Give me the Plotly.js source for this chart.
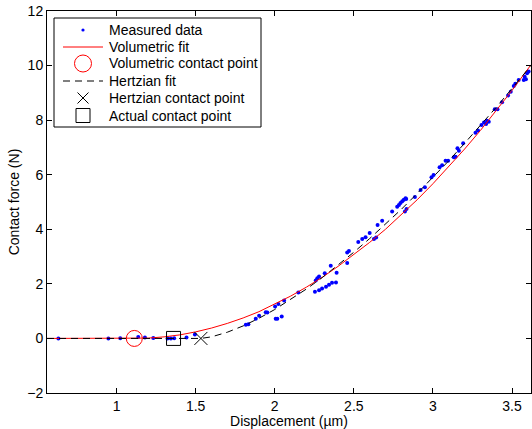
<!DOCTYPE html>
<html>
<head>
<meta charset="utf-8">
<script src="https://cdn.plot.ly/plotly-3.0.1.min.js"></script>
<style>html,body{margin:0;padding:0;background:#fff;}#chart{width:532px;height:429px;}</style>
</head>
<body>
<div id="chart"></div>
<script>
// Measured data (displacement in µm, force in N)
const measuredX = [0.632, 0.948, 1.023, 1.137, 1.179, 1.232, 1.322, 1.343, 1.364, 1.442, 1.495,
  1.817, 1.833, 1.880, 1.901, 1.943, 1.953, 2.006, 2.016, 2.044, 2.002, 2.023, 2.059, 2.149,
  2.254, 2.280, 2.299, 2.324, 2.343, 2.362, 2.387, 2.259, 2.269, 2.280, 2.316, 2.354, 2.391,
  2.458, 2.458, 2.469, 2.528, 2.553, 2.574, 2.600, 2.627, 2.641, 2.650, 2.679, 2.742,
  2.774, 2.785, 2.795, 2.806, 2.816, 2.831, 2.823, 2.833, 2.827,
  2.886, 2.922, 2.949, 2.991, 3.004, 3.042, 3.058, 3.080, 3.096, 3.132, 3.143, 3.155, 3.164, 3.191,
  3.269, 3.285, 3.307, 3.323, 3.342, 3.353, 3.336, 3.391, 3.408, 3.437, 3.475, 3.492, 3.511, 3.521,
  3.542, 3.574, 3.580, 3.588, 3.595, 3.605];
const measuredY = [0.00, 0.00, 0.01, 0.05, 0.03, 0.02, 0.00, 0.00, 0.01, 0.03, 0.14,
  0.50, 0.52, 0.72, 0.83, 0.96, 0.95, 0.72, 0.72, 0.80, 1.17, 1.26, 1.39, 1.68,
  1.71, 1.77, 1.83, 1.89, 1.97, 2.04, 2.05, 2.12, 2.21, 2.27, 2.39, 2.66, 2.41,
  2.76, 3.15, 3.20, 3.53, 3.64, 3.71, 3.86, 3.64, 3.70, 4.16, 4.31, 4.65,
  4.83, 4.89, 4.96, 5.03, 5.08, 5.11, 4.65, 4.74, 5.14,
  5.18, 5.44, 5.54, 5.91, 5.99, 6.27, 6.35, 6.51, 6.51, 6.64, 6.66, 6.97, 6.88, 7.15,
  7.54, 7.62, 7.82, 7.91, 7.98, 7.94, 7.86, 8.40, 8.40, 8.66, 8.90, 9.04, 9.25, 9.33,
  9.47, 9.47, 9.59, 9.50, 9.72, 9.78];

// Volumetric fit
const volX = [0.56, 1.112, 1.2, 1.3, 1.4, 1.5, 1.6, 1.7, 1.8, 1.9, 2.0, 2.1, 2.2, 2.3, 2.4, 2.5,
  2.6, 2.7, 2.8, 2.9, 3.0, 3.1, 3.2, 3.3, 3.4, 3.5, 3.62];
const volY = [0, 0, 0.012, 0.057, 0.13, 0.24, 0.38, 0.55, 0.75, 0.98, 1.25, 1.55, 1.88, 2.24, 2.64, 3.07,
  3.52, 4.0, 4.53, 5.08, 5.67, 6.29, 6.94, 7.62, 8.34, 9.09, 10.03];

// Hertzian fit
const hertzX = [0.56, 1.533, 1.6, 1.7, 1.8, 1.9, 2.0, 2.1, 2.2, 2.3, 2.4, 2.5, 2.6, 2.7, 2.8, 2.9,
  3.0, 3.1, 3.2, 3.3, 3.4, 3.5, 3.62];
const hertzY = [0, 0, 0.058, 0.227, 0.458, 0.738, 1.06, 1.42, 1.81, 2.23, 2.68, 3.16, 3.66, 4.19, 4.73, 5.31,
  5.90, 6.51, 7.15, 7.80, 8.47, 9.16, 10.0];

// Contact points
const volContactX = [1.112], volContactY = [0];
const hertzContactX = [1.533], hertzContactY = [0];
const actualContactX = [1.36], actualContactY = [0];

const xTicks = [1, 1.5, 2, 2.5, 3, 3.5];
const xTickText = ['1', '1.5', '2', '2.5', '3', '3.5'];

const legendLabels = ['Measured data', 'Volumetric fit', 'Volumetric contact point',
  'Hertzian fit', 'Hertzian contact point', 'Actual contact point'];

const FONT = 'Liberation Sans, Arial, Helvetica, sans-serif';
const FS = 14;
const HERTZ_DASH = '7px,5px';

// plot area in pixels
const M = {l: 47, r: 1, t: 11, b: 36};
const W = 532, H = 429;
const PW = W - M.l - M.r, PH = H - M.t - M.b;
const px = p => (p - M.l) / PW;
const py = p => (H - M.b - p) / PH;

const traces = [
  {x: measuredX, y: measuredY, mode: 'markers', name: legendLabels[0],
   marker: {color: '#0000ff', size: 4, symbol: 'circle'}},
  {x: volX, y: volY, mode: 'lines', name: legendLabels[1], line: {color: '#ff0000', width: 1}},
  {x: volContactX, y: volContactY, mode: 'markers', name: legendLabels[2],
   marker: {color: '#ff0000', size: 16, symbol: 'circle-open', line: {width: 1}}},
  {x: hertzX, y: hertzY, mode: 'lines', name: legendLabels[3],
   line: {color: '#000000', width: 1, dash: HERTZ_DASH}},
  {x: hertzContactX, y: hertzContactY, mode: 'markers', name: legendLabels[4],
   marker: {color: '#000000', size: 13, symbol: 'x-thin-open', line: {width: 1, color: '#000000'}}},
  {x: actualContactX, y: actualContactY, mode: 'markers', name: legendLabels[5],
   marker: {color: '#000000', size: 14, symbol: 'square-open', line: {width: 1, color: '#000000'}}}
];

// custom legend (MATLAB style)
const LG = {x0: 54, x1: 261, y0: 18, y1: 127, symX: 83, lineX0: 63, lineX1: 103, textX: 108,
  rows: [30, 47, 63.5, 81, 98, 115.5]};
const shapes = [
  {type: 'rect', xref: 'paper', yref: 'paper', x0: px(LG.x0), x1: px(LG.x1), y0: py(LG.y1), y1: py(LG.y0),
   line: {color: '#000', width: 1}, fillcolor: '#fff', layer: 'above'},
  // measured data dot
  {type: 'circle', xref: 'paper', yref: 'paper', x0: px(LG.symX - 1.6), x1: px(LG.symX + 1.6),
   y0: py(LG.rows[0] + 1.6), y1: py(LG.rows[0] - 1.6), fillcolor: '#0000ff', line: {width: 0}, layer: 'above'},
  // volumetric fit line
  {type: 'line', xref: 'paper', yref: 'paper', x0: px(LG.lineX0), x1: px(LG.lineX1),
   y0: py(LG.rows[1]), y1: py(LG.rows[1]), line: {color: '#ff0000', width: 1}, layer: 'above'},
  // volumetric contact circle
  {type: 'circle', xref: 'paper', yref: 'paper', x0: px(LG.symX - 8.5), x1: px(LG.symX + 8.5),
   y0: py(LG.rows[2] + 8.5), y1: py(LG.rows[2] - 8.5), line: {color: '#ff0000', width: 1}, layer: 'above'},
  // hertzian fit dashed
  {type: 'line', xref: 'paper', yref: 'paper', x0: px(LG.lineX0), x1: px(LG.lineX1),
   y0: py(LG.rows[3]), y1: py(LG.rows[3]), line: {color: '#000', width: 1, dash: HERTZ_DASH}, layer: 'above'},
  // hertzian contact X
  {type: 'line', xref: 'paper', yref: 'paper', x0: px(LG.symX - 5.5), x1: px(LG.symX + 5.5),
   y0: py(LG.rows[4] - 5.5), y1: py(LG.rows[4] + 5.5), line: {color: '#000', width: 1}, layer: 'above'},
  {type: 'line', xref: 'paper', yref: 'paper', x0: px(LG.symX - 5.5), x1: px(LG.symX + 5.5),
   y0: py(LG.rows[4] + 5.5), y1: py(LG.rows[4] - 5.5), line: {color: '#000', width: 1}, layer: 'above'},
  // actual contact square
  {type: 'rect', xref: 'paper', yref: 'paper', x0: px(LG.symX - 7), x1: px(LG.symX + 7),
   y0: py(LG.rows[5] + 7), y1: py(LG.rows[5] - 7), line: {color: '#000', width: 1}, layer: 'above'}
];
const annotations = legendLabels.map((t, i) => ({
  text: t, xref: 'paper', yref: 'paper', x: px(LG.textX), y: py(LG.rows[i]),
  xanchor: 'left', yanchor: 'middle', showarrow: false, borderpad: 0,
  font: {family: FONT, size: FS, color: '#000'}
}));

const axisCommon = {
  showgrid: false, zeroline: false, showline: true, linecolor: '#000', linewidth: 1,
  mirror: 'ticks', ticks: 'inside', ticklen: 5, tickcolor: '#000', tickwidth: 1,
  tickfont: {family: FONT, size: FS, color: '#000'}
};

const layout = {
  width: W, height: H,
  margin: M,
  paper_bgcolor: '#fff', plot_bgcolor: '#fff',
  font: {family: FONT, size: FS, color: '#000'},
  showlegend: false,
  shapes: shapes,
  annotations: annotations,
  xaxis: Object.assign({}, axisCommon, {
    range: [0.56, 3.62], tickmode: 'array', tickvals: xTicks, ticktext: xTickText,
    title: {text: 'Displacement (µm)', font: {family: FONT, size: FS}, standoff: 0}
  }),
  yaxis: Object.assign({}, axisCommon, {
    range: [-2, 12], dtick: 2, tick0: 0,
    title: {text: 'Contact force (N)', font: {family: FONT, size: FS}, standoff: 4}
  })
};

Plotly.newPlot('chart', traces, layout, {displayModeBar: false, staticPlot: true});
</script>
</body>
</html>
